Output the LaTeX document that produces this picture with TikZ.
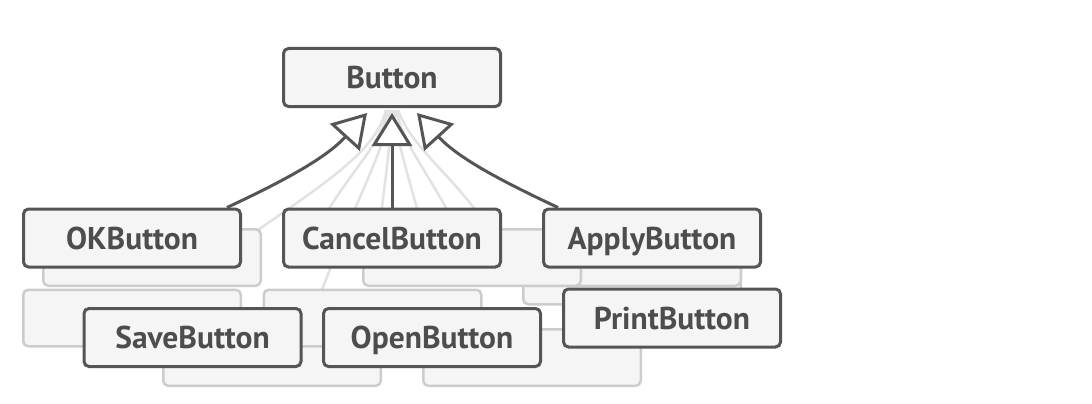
\documentclass[tikz,border=0pt]{standalone}
\usepackage{fontspec}
\setmainfont{PT Sans}
\usetikzlibrary{arrows.meta,calc}
\definecolor{dk}{HTML}{555555}
\definecolor{tx}{HTML}{4D4D4D}
\definecolor{bx}{HTML}{F5F5F5}
\definecolor{gh}{HTML}{CCCCCC}
\definecolor{lt}{HTML}{E2E2E2}
\begin{document}
\begin{tikzpicture}[x=1pt,y=-1pt,
  cls/.style={draw=dk, fill=bx, line width=3pt, rounded corners=5pt,
    minimum width=217pt, minimum height=58pt, inner sep=0pt,
    text height=22pt, text depth=0pt,
    font=\fontsize{31.5}{33}\selectfont\bfseries, text=tx},
  ghost/.style={draw=gh, fill=bx, line width=2.5pt, rounded corners=5pt,
    minimum width=217.5pt, minimum height=56.5pt, inner sep=0pt},
  faint/.style={draw=lt, line width=2.5pt},
  inh/.style={draw=dk, line width=3pt,
    -{Triangle[length=33pt,width=40pt,fill=white]}},
]
\useasboundingbox[fill=white] (0,0) rectangle (1092,404);

% parent
\node[cls] (btn) at (392,77.5) {Button};

% faint ghost inheritance lines
\coordinate (e1) at (255,232);
\coordinate (e2) at (312,240);
\coordinate (e3) at (320,295);
\coordinate (e4) at (378,240);
\coordinate (e5) at (425,240);
\coordinate (e6) at (462,240);
\coordinate (e7) at (492,235);
\draw[faint] ($(btn.south)+(-6,2)$) .. controls +(-10,40) and +(75,-52) .. (e1);
\draw[faint] ($(btn.south)+(-4,2)$) .. controls +(-8,40) and +(28,-60) .. (e2);
\draw[faint] ($(btn.south)+(-2,2)$) .. controls +(-5,40) and +(40,-105) .. (e3);
\draw[faint] ($(btn.south)+(0,2)$) .. controls +(-2,40) and +(7,-60) .. (e4);
\draw[faint] ($(btn.south)+(2,2)$) .. controls +(4,40) and +(-13,-55) .. (e5);
\draw[faint] ($(btn.south)+(4,2)$) .. controls +(9,40) and +(-27,-60) .. (e6);
\draw[faint] ($(btn.south)+(6,2)$) .. controls +(14,40) and +(-32,-55) .. (e7);

% ghost boxes
\node[ghost] (gE) at (632,276) {};
\node[ghost] (gB) at (632,257.5) {};
\node[ghost] (gA) at (472,257.5) {};
\node[ghost] (gO) at (152,257.5) {};
\node[ghost] (gC) at (132,318) {};
\node[ghost] (gG) at (272,357.5) {};
\node[ghost] (gF) at (532,357.5) {};
\node[ghost] (gD) at (372.5,318) {};

% children
\node[cls] (ok) at (132,238) {OKButton};
\node[cls] (cancel) at (392,238) {CancelButton};
\node[cls] (apply) at (652,238) {ApplyButton};
\node[cls] (save) at (192.5,337.5) {SaveButton};
\node[cls] (open) at (432,337.5) {OpenButton};
\node[cls] (print) at (672,318) {PrintButton};

% inheritance arrows
\draw[inh] ($(ok.north east)+(-15,0)$) .. controls +(60,-28) and +(-40,44) .. ($(btn.south)+(-25,5)$);
\draw[inh] (cancel.north) -- ($(btn.south)+(0,5)$);
\draw[inh] ($(apply.north west)+(16,0)$) .. controls +(-60,-28) and +(40,44) .. ($(btn.south)+(25,5)$);
\end{tikzpicture}
\end{document}
